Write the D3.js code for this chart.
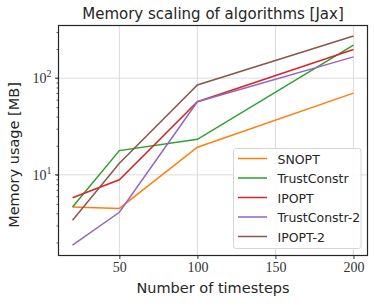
<!DOCTYPE html>
<html>
<head>
<meta charset="utf-8">
<script src="https://cdn.jsdelivr.net/npm/d3@7"></script>
<style>
  body { margin: 0; background: #fff; }
</style>
</head>
<body>
<div id="chart"></div>
<script>
// data
const timesteps = [20, 50, 100, 200]
const snopt = [4.65, 4.5, 19.3, 70]
const trustConstr = [4.65, 17.8, 23.3, 219]
const ipopt = [5.8, 8.9, 57, 198]
const trustConstr2 = [1.88, 4.1, 57, 166]
const ipopt2 = [3.4, 13.2, 85, 273]

const seriesNames = ['SNOPT', 'TrustConstr', 'IPOPT', 'TrustConstr-2', 'IPOPT-2']
const seriesValues = [snopt, trustConstr, ipopt, trustConstr2, ipopt2]
const colors = ['#ff7f0e', '#2ca02c', '#d62728', '#9467bd', '#8c564b']
const xTicks = [50, 100, 150, 200]

const width = 374,
    height = 306
const plotLeft = 58.5, plotRight = 367.5, plotTop = 25.5, plotBottom = 255.5

const sans = '"DejaVu Sans", sans-serif'
const serif = '"Liberation Serif", serif'

let svg = d3.select('#chart')
    .append('svg')
    .attr('width', width)
    .attr('height', height)
    .style('background', '#fff')

// scales with matplotlib-like 5% margins
const xPad = (d3.max(timesteps) - d3.min(timesteps)) * 0.05
const xScale = d3.scaleLinear()
    .domain([d3.min(timesteps) - xPad, d3.max(timesteps) + xPad])
    .range([plotLeft, plotRight])

const allVals = seriesValues.flat()
const lmin = Math.log10(d3.min(allVals)), lmax = Math.log10(d3.max(allVals))
const lpad = (lmax - lmin) * 0.05
const yScale = d3.scaleLog()
    .domain([Math.pow(10, lmin - lpad), Math.pow(10, lmax + lpad)])
    .range([plotBottom, plotTop])

// grid
const grid = svg.append('g')
grid.selectAll('line.gx')
    .data(xTicks)
    .enter()
    .append('line')
    .attr('x1', d => xScale(d)).attr('x2', d => xScale(d))
    .attr('y1', plotTop).attr('y2', plotBottom)
    .attr('stroke', '#d8d8d8').attr('stroke-width', 0.9)
grid.selectAll('line.gy')
    .data([10, 100])
    .enter()
    .append('line')
    .attr('x1', plotLeft).attr('x2', plotRight)
    .attr('y1', d => yScale(d)).attr('y2', d => yScale(d))
    .attr('stroke', '#d8d8d8').attr('stroke-width', 0.9)

// lines
const line = d3.line()
    .x((d, i) => xScale(timesteps[i]))
    .y(d => yScale(d))

svg.selectAll('path.series')
    .data(seriesValues)
    .enter()
    .append('path')
    .attr('class', 'series')
    .attr('d', d => line(d))
    .attr('fill', 'none')
    .attr('stroke', (d, i) => colors[i])
    .attr('stroke-width', 1.5)

// axes
const xAxis = svg.append('g')
    .attr('transform', `translate(0,${plotBottom})`)
    .call(d3.axisBottom(xScale).tickValues(xTicks).tickSize(3.5).tickPadding(3))
xAxis.select('.domain').remove()
xAxis.selectAll('text')
    .style('font-family', serif).style('font-size', '14px').attr('fill', '#333')
xAxis.selectAll('line').attr('stroke', '#333')

// minor ticks on log y axis
const minorVals = []
for (let dec = 1; dec <= 100; dec *= 10) {
    for (let m = 1; m <= 9; m++) {
        const v = m * dec
        if (v >= yScale.domain()[0] && v <= yScale.domain()[1]) minorVals.push(v)
    }
}
const yAxis = svg.append('g')
    .attr('transform', `translate(${plotLeft},0)`)
    .call(d3.axisLeft(yScale).tickValues(minorVals).tickFormat('').tickSize(2))
yAxis.select('.domain').remove()
yAxis.selectAll('line').attr('stroke', '#333').attr('stroke-width', 0.8)

const majors = svg.append('g')
majors.selectAll('line')
    .data([10, 100])
    .enter()
    .append('line')
    .attr('x1', plotLeft - 3.5).attr('x2', plotLeft)
    .attr('y1', d => yScale(d)).attr('y2', d => yScale(d))
    .attr('stroke', '#333')
const yl = majors.selectAll('text')
    .data([1, 2])
    .enter()
    .append('text')
    .attr('x', plotLeft - 7)
    .attr('y', d => yScale(Math.pow(10, d)) + 5)
    .attr('text-anchor', 'end')
    .style('font-family', serif).style('font-size', '14px')
    .attr('fill', '#333')
yl.append('tspan').text('10')
yl.append('tspan').attr('dy', -6).style('font-size', '10px').text(d => d)

// frame
svg.append('rect')
    .attr('x', plotLeft).attr('y', plotTop)
    .attr('width', plotRight - plotLeft).attr('height', plotBottom - plotTop)
    .attr('fill', 'none').attr('stroke', '#262626').attr('stroke-width', 1.2)

// labels
svg.append('text')
    .attr('x', (plotLeft + plotRight) / 2).attr('y', 19)
    .attr('text-anchor', 'middle')
    .style('font-family', sans).style('font-size', '15px')
    .attr('fill', '#262626')
    .text('Memory scaling of algorithms [Jax]')

svg.append('text')
    .attr('x', (plotLeft + plotRight) / 2 + 0).attr('y', 293)
    .attr('text-anchor', 'middle')
    .style('font-family', sans).style('font-size', '14.5px')
    .attr('fill', '#262626')
    .text('Number of timesteps')

svg.append('text')
    .attr('transform', `translate(18.5,155) rotate(-90)`)
    .attr('text-anchor', 'middle')
    .style('font-family', sans).style('font-size', '14.5px')
    .attr('fill', '#262626')
    .text('Memory usage [MB]')

// legend
const legend = svg.append('g')
legend.append('rect')
    .attr('x', 233.5).attr('y', 148.5)
    .attr('width', 127.5).attr('height', 100)
    .attr('rx', 2.5)
    .attr('fill', 'white').attr('fill-opacity', 0.85)
    .attr('stroke', '#d6d6d6')
const items = legend.selectAll('g.item')
    .data(seriesNames)
    .enter()
    .append('g')
    .attr('transform', (d, i) => `translate(0,${158.5 + i * 19.5})`)
items.append('line')
    .attr('x1', 238).attr('x2', 267)
    .attr('stroke', (d, i) => colors[i]).attr('stroke-width', 1.5)
items.append('text')
    .attr('x', 277.5).attr('y', 5)
    .style('font-family', sans).style('font-size', '12.5px')
    .attr('fill', '#262626')
    .text(d => d)
</script>
</body>
</html>
